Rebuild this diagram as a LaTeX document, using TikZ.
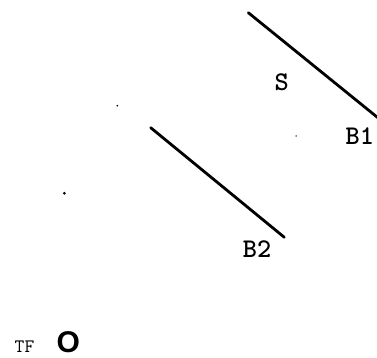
\documentclass[tikz,border=0pt]{standalone}
\usepackage{fontspec}
\newfontfamily\osans{Liberation Sans}
\tikzset{
  seg/.style={line width=2.8pt, line cap=round},
  lab/.style={inner sep=0pt, font=\fontsize{27}{27}\selectfont\ttfamily\bfseries},
  smalllab/.style={inner sep=0pt, font=\fontsize{19}{19}\selectfont\ttfamily},
  speck/.style={circle, fill=black, inner sep=0pt, minimum size=#1},
}
\begin{document}
\begin{tikzpicture}[x=1pt,y=-1pt]
\useasboundingbox (0,0) rectangle (377,358);
\coordinate (b1s) at (248.3,12.7);
\coordinate (b1e) at (385,123.5);
\coordinate (b2s) at (150.7,127.7);
\coordinate (b2e) at (284.3,237.3);
\draw[seg] (b1s) -- (b1e);
\draw[seg] (b2s) -- (b2e);
\node[lab] (S) at (281.7,82) {S};
\node[lab,anchor=west] (B1) at (345.5,136.3) {B1};
\node[lab] (B2) at (257,249.3) {B2};
\node[smalllab] (TF) at (24.5,346.5) {TF};
\node[inner sep=0pt, font=\fontsize{30}{30}\selectfont\osans\bfseries] (O) at (68.3,342.3) {O};
\node[speck=1.8pt] (d1) at (117.3,105.7) {};
\node[speck=3pt] (d2) at (64.3,193.3) {};
\node[speck=1.5pt] (d3) at (296,136) {};
\end{tikzpicture}
\end{document}
